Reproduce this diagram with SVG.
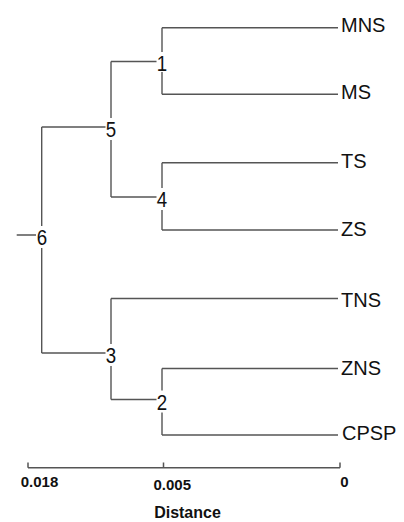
<svg xmlns="http://www.w3.org/2000/svg" width="404" height="522" viewBox="0 0 404 522">
<style>
.ln{stroke:#555;stroke-width:1.4;fill:none}
.leaf{font-family:"Liberation Sans",Arial,sans-serif;font-size:20px;fill:#111}
.nd{font-family:"Liberation Sans",Arial,sans-serif;font-size:22px;fill:#111;text-anchor:middle}
.ax{font-family:"Liberation Sans",Arial,sans-serif;font-size:15px;font-weight:bold;fill:#111;text-anchor:middle}
</style>
<rect width="404" height="522" fill="#fff"/>
<g id="connectors" class="ln">
<path d="M162 27.7V52M162 72V94.3M162 27.7H338M162 94.3H338"/>
<path d="M111 61.5H156.5"/>
<path d="M111 61.5V118M111 140V197M111 197H156.5"/>
<path d="M162 162.7V188M162 210V230M162 162.7H338M162 230H338"/>
<path d="M41.7 127H105.5"/>
<path d="M41.7 127V226M41.7 248V353M16.7 235H36"/>
<path d="M41.7 353H105.5"/>
<path d="M111 298.5V344M111 366V399.5M111 298.5H338M111 399.5H156.5"/>
<path d="M162 368.5V390.5M162 412.5V435M162 368.5H338M162 435H338"/>
</g>
<g id="node1"><text class="nd" transform="translate(162,71) scale(0.85,1)">1</text></g>
<g id="node5"><text class="nd" transform="translate(111,137) scale(0.85,1)">5</text></g>
<g id="node4"><text class="nd" transform="translate(162,207) scale(0.85,1)">4</text></g>
<g id="node6"><text class="nd" transform="translate(42,245) scale(0.85,1)">6</text></g>
<g id="node3"><text class="nd" transform="translate(111,363) scale(0.85,1)">3</text></g>
<g id="node2"><text class="nd" transform="translate(162,409.5) scale(0.85,1)">2</text></g>
<g id="leaf-MNS"><text class="leaf" x="341" y="31.5">MNS</text></g>
<g id="leaf-MS"><text class="leaf" x="341" y="99">MS</text></g>
<g id="leaf-TS"><text class="leaf" x="341" y="167.5">TS</text></g>
<g id="leaf-ZS"><text class="leaf" x="341" y="235.5">ZS</text></g>
<g id="leaf-TNS"><text class="leaf" x="341" y="307">TNS</text></g>
<g id="leaf-ZNS"><text class="leaf" x="341" y="374.5">ZNS</text></g>
<g id="leaf-CPSP"><text class="leaf" x="342" y="440">CPSP</text></g>
<g id="axis">
<path class="ln" d="M28 467.7H340M28 462.5V467.7M163.5 462.5V467.7M340 462.5V467.7" style="stroke-width:1.5"/>
<text class="ax" x="39.5" y="487.3">0.018</text>
<text class="ax" x="172.3" y="490">0.005</text>
<text class="ax" x="344.3" y="487.3">0</text>
<text class="ax" x="187.5" y="518" style="font-size:16px">Distance</text>
</g>
</svg>
